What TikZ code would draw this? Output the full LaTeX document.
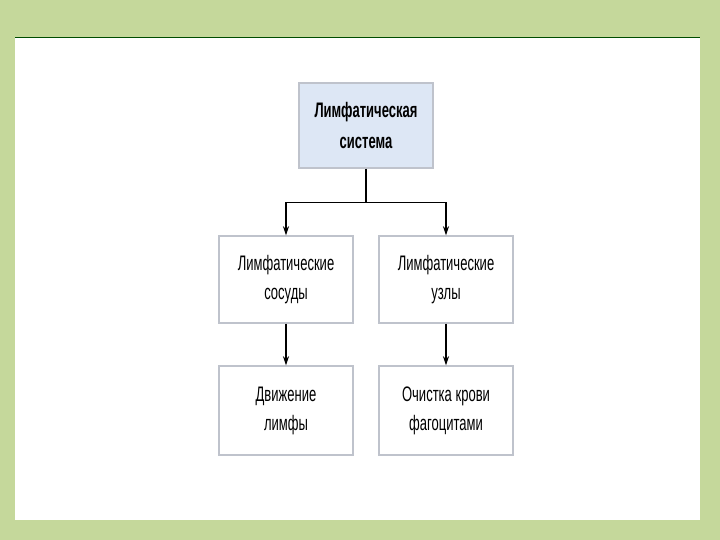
\documentclass[tikz,border=0pt]{standalone}
\usepackage{fontspec}
\setmainfont[FakeStretch=0.62]{Liberation Sans}
\usetikzlibrary{arrows.meta,positioning,shadows,calc}

\definecolor{slidegreen}{HTML}{C5D89B}
\definecolor{boxline}{HTML}{BFC3CC}
\definecolor{topfill}{HTML}{DDE7F5}
\tikzset{
  box/.style={draw=boxline,line width=1.4pt,fill=white,minimum width=134pt,minimum height=87pt,
    align=center,font=\fontsize{21}{29}\selectfont,
    drop shadow={shadow xshift=1.2pt,shadow yshift=-1.2pt,fill=black!12}},
  topbox/.style={box,fill=topfill,minimum height=85pt,font=\bfseries\fontsize{21}{31}\selectfont},
  arr/.style={line width=1.6pt,-{Stealth[length=9pt,width=6pt]}}
}

\begin{document}
\begin{tikzpicture}[x=1pt,y=-1pt]
\fill[slidegreen] (0,0) rectangle (720,540); %background
\fill[white] (15,38) rectangle (700,520);
\draw[line width=1pt,black!70!green] (15,38)--(700,38);

\node[topbox] (lymph) at (366,125.5) {Лимфатическая\\система};
\node[box] (vessels) at (286,279.5) {Лимфатические\\сосуды};
\node[box] (nodes) at (446,279.5) {Лимфатические\\узлы};
\node[box,minimum height=89pt] (flow) at (286,410.5) {Движение\\лимфы};
\node[box,minimum height=89pt] (clean) at (446,410.5) {Очистка крови\\фагоцитами};

\coordinate (fork) at ($(lymph.south)+(0,34)$);
\draw[line width=1.6pt] (lymph.south)--(fork);
\draw[arr] (fork) -| (vessels.north);
\draw[arr] (fork) -| (nodes.north);
\draw[arr] (vessels)--(flow);
\draw[arr] (nodes)--(clean);
\end{tikzpicture}
\end{document}
